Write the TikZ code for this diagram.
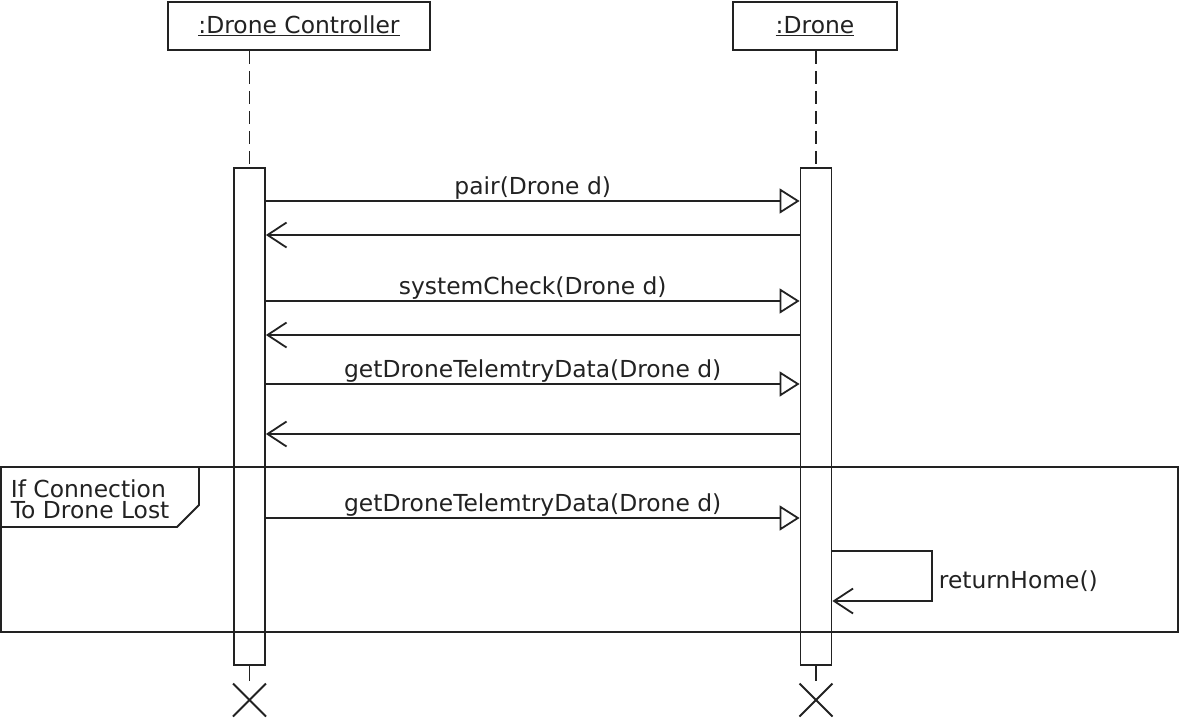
\documentclass[tikz,border=0pt]{standalone}
\usepackage{fontspec}
\setmainfont{DejaVu Sans}
\usetikzlibrary{arrows.meta}
\definecolor{ink}{RGB}{34,34,34}
\begin{document}
\begin{tikzpicture}[x=1pt,y=-1pt,line width=1.8pt,
  every node/.style={text=ink,font=\fontsize{23.4}{21}\selectfont,inner sep=0pt},
  head/.style={draw=ink,line width=1.8pt,minimum height=48pt},
  bar/.style={draw=ink,fill=white,line width=1.8pt,minimum width=31pt,minimum height=497pt},
  life/.style={draw=ink,dash pattern=on 13pt off 7pt},
  plain/.style={draw=ink},
  call/.style={draw=ink,-{Triangle[open,length=20pt,width=25pt,fill=white]}},
  reply/.style={draw=ink,-{Straight Barb[length=19pt,width=25pt]}},
  lbl/.style={anchor=base,yshift=7pt}]
\useasboundingbox (0,0) rectangle (1179,724);

% lifeline heads
\node[head,minimum width=262pt] (hc) at (299,26) {\underline{:Drone Controller}};
\node[head,minimum width=164pt] (hd) at (815,26) {\underline{:Drone}};

% activation bars
\node[bar] (bc) at (249.5,416.5) {};
\node[bar] (bd) at (816,416.5) {};

% dashed lifelines
\draw[life] (bc.north |- hc.south) -- (bc.north);
\draw[life] (bd.north |- hd.south) -- (bd.north);

% destruction
\coordinate (xc) at (249.5,700);
\coordinate (xd) at (816,700);
\draw[plain] (bc.south) -- (249.5,681);
\draw[plain] (bd.south) -- (816,681);
\draw[plain] ([shift={(-16.5,-16.5)}]xc) -- ([shift={(16.5,16.5)}]xc);
\draw[plain] ([shift={(-16.5,16.5)}]xc) -- ([shift={(16.5,-16.5)}]xc);
\draw[plain] ([shift={(-16.5,-16.5)}]xd) -- ([shift={(16.5,16.5)}]xd);
\draw[plain] ([shift={(-16.5,16.5)}]xd) -- ([shift={(16.5,-16.5)}]xd);

% messages
\draw[call] (bc.east |- 0,201) -- node[lbl] {pair(Drone d)} (bd.west |- 0,201);
\draw[reply] (bd.west |- 0,235) -- (bc.east |- 0,235);
\draw[call] (bc.east |- 0,301) -- node[lbl] {systemCheck(Drone d)} (bd.west |- 0,301);
\draw[reply] (bd.west |- 0,335) -- (bc.east |- 0,335);
\draw[call] (bc.east |- 0,384) -- node[lbl] {getDroneTelemtryData(Drone d)} (bd.west |- 0,384);
\draw[reply] (bd.west |- 0,434) -- (bc.east |- 0,434);
\draw[call] (bc.east |- 0,518) -- node[lbl] {getDroneTelemtryData(Drone d)} (bd.west |- 0,518);

% self message
\coordinate (loopA) at (932,551);
\coordinate (loopB) at (932,601);
\draw[reply] (bd.east |- loopA) -- (loopA) -- (loopB) -- (bd.east |- loopB);
\node[anchor=base west] (rh) at (938,588) {returnHome()};

% combined fragment frame
\draw[plain] (0.9,467) rectangle (1178.1,632);
\draw[plain] (0.9,467) -- (199,467) -- (199,505) -- (177,527) -- (0.9,527);
\node[anchor=base west,align=left] (fl) at (10,518) {If Connection\\To Drone Lost};
\end{tikzpicture}
\end{document}
